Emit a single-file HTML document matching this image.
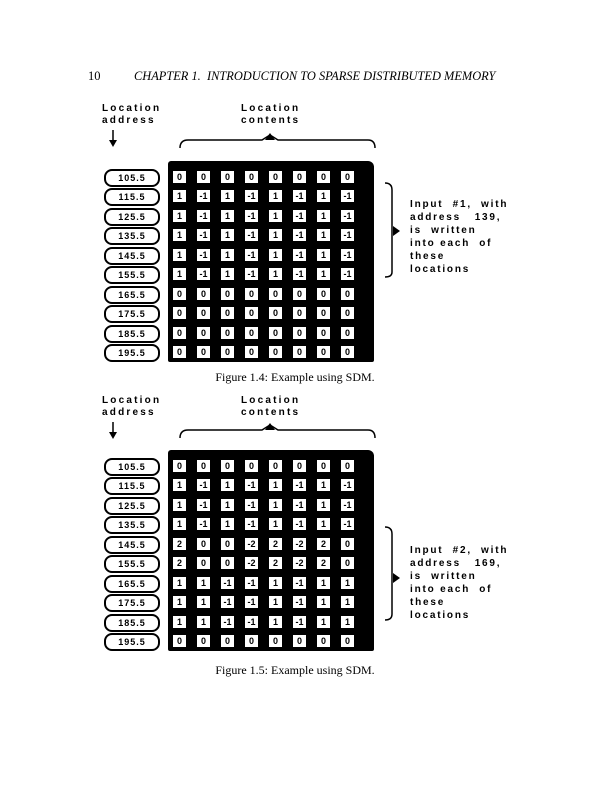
<!DOCTYPE html>
<html><head><meta charset="utf-8"><style>
body{margin:0;background:#fff;width:612px;height:791px;position:relative;overflow:hidden;font-family:"Liberation Serif",serif;}
.a{position:absolute}
.lab{position:absolute;font-family:"Liberation Sans",sans-serif;font-weight:bold;font-size:10px;letter-spacing:2.2px;line-height:12px;color:#000}
.blk{position:absolute;left:168px;width:206px;background:#000;border-radius:3px 6px 2px 2px}
.row{position:absolute;left:172px;display:flex;gap:9px}
.row span{display:block;width:13px;height:12px;background:#fff;border:1px solid #000;font-family:"Liberation Sans",sans-serif;font-weight:bold;font-size:9px;line-height:12px;text-align:center;letter-spacing:0}
.pill{position:absolute;left:104px;width:52px;height:14px;border:2px solid #000;border-radius:8px;font-family:"Liberation Sans",sans-serif;font-weight:bold;font-size:9px;line-height:14px;text-align:center;letter-spacing:1px}
.txt{position:absolute;left:410px;font-family:"Liberation Sans",sans-serif;font-weight:bold;font-size:10px;letter-spacing:1.8px;line-height:13px;white-space:pre}
.cap{position:absolute;left:0;width:590px;text-align:center;font-size:12px}
</style></head><body>
<div class="a" style="left:88px;top:69px;font-size:12.5px">10</div>
<div class="a" style="left:134px;top:69px;font-size:12.4px;font-style:italic">CHAPTER 1.&nbsp; INTRODUCTION TO SPARSE DISTRIBUTED MEMORY</div>

<!-- Figure 1 -->
<div class="lab" style="left:102px;top:103px">Location<br>address</div>
<div class="lab" style="left:241px;top:103px">Location<br>contents</div>
<svg class="a" style="left:0;top:0" width="612" height="791">
<g stroke="#000" stroke-width="1.5" fill="none">
<path d="M113 130 V145"/><path d="M180 148 Q180 140 188 140 H262 L270 135 L278 140 H368 Q375 140 375 148"/>
<path d="M385 183 Q392 183 392 190 V272 Q392 277 385 277"/>
<path d="M113 422 V437"/><path d="M180 438 Q180 430 188 430 H262 L270 425 L278 430 H368 Q375 430 375 438"/>
<path d="M385 527 Q392 527 392 534 V614 Q392 620 385 620"/>
</g>
<path d="M109 140 L117 140 L113 147 Z"/><path d="M265 140 L270 133 L275 140 Z"/>
<path d="M393 226 L400 231 L393 236 Z"/>
<path d="M109 432 L117 432 L113 439 Z"/><path d="M265 430 L270 423 L275 430 Z"/>
<path d="M393 573 L400 578 L393 583 Z"/>
</svg>
<div class="blk" style="top:161px;height:201px"></div>
<div class="pill" style="top:169px">105.5</div><div class="row" style="top:170px"><span>0</span><span>0</span><span>0</span><span>0</span><span>0</span><span>0</span><span>0</span><span>0</span></div>
<div class="pill" style="top:188px">115.5</div><div class="row" style="top:189px"><span>1</span><span>-1</span><span>1</span><span>-1</span><span>1</span><span>-1</span><span>1</span><span>-1</span></div>
<div class="pill" style="top:208px">125.5</div><div class="row" style="top:209px"><span>1</span><span>-1</span><span>1</span><span>-1</span><span>1</span><span>-1</span><span>1</span><span>-1</span></div>
<div class="pill" style="top:227px">135.5</div><div class="row" style="top:228px"><span>1</span><span>-1</span><span>1</span><span>-1</span><span>1</span><span>-1</span><span>1</span><span>-1</span></div>
<div class="pill" style="top:247px">145.5</div><div class="row" style="top:248px"><span>1</span><span>-1</span><span>1</span><span>-1</span><span>1</span><span>-1</span><span>1</span><span>-1</span></div>
<div class="pill" style="top:266px">155.5</div><div class="row" style="top:267px"><span>1</span><span>-1</span><span>1</span><span>-1</span><span>1</span><span>-1</span><span>1</span><span>-1</span></div>
<div class="pill" style="top:286px">165.5</div><div class="row" style="top:287px"><span>0</span><span>0</span><span>0</span><span>0</span><span>0</span><span>0</span><span>0</span><span>0</span></div>
<div class="pill" style="top:305px">175.5</div><div class="row" style="top:306px"><span>0</span><span>0</span><span>0</span><span>0</span><span>0</span><span>0</span><span>0</span><span>0</span></div>
<div class="pill" style="top:325px">185.5</div><div class="row" style="top:326px"><span>0</span><span>0</span><span>0</span><span>0</span><span>0</span><span>0</span><span>0</span><span>0</span></div>
<div class="pill" style="top:344px">195.5</div><div class="row" style="top:345px"><span>0</span><span>0</span><span>0</span><span>0</span><span>0</span><span>0</span><span>0</span><span>0</span></div>
<div class="txt" style="top:198px">Input  #1,  with
address   139,
is  written
into each  of
these
locations</div>
<div class="cap" style="top:370px">Figure 1.4: Example using SDM.</div>

<!-- Figure 2 -->
<div class="lab" style="left:102px;top:395px">Location<br>address</div>
<div class="lab" style="left:241px;top:395px">Location<br>contents</div>
<div class="blk" style="top:450px;height:201px"></div>
<div class="pill" style="top:458px">105.5</div><div class="row" style="top:459px"><span>0</span><span>0</span><span>0</span><span>0</span><span>0</span><span>0</span><span>0</span><span>0</span></div>
<div class="pill" style="top:477px">115.5</div><div class="row" style="top:478px"><span>1</span><span>-1</span><span>1</span><span>-1</span><span>1</span><span>-1</span><span>1</span><span>-1</span></div>
<div class="pill" style="top:497px">125.5</div><div class="row" style="top:498px"><span>1</span><span>-1</span><span>1</span><span>-1</span><span>1</span><span>-1</span><span>1</span><span>-1</span></div>
<div class="pill" style="top:516px">135.5</div><div class="row" style="top:517px"><span>1</span><span>-1</span><span>1</span><span>-1</span><span>1</span><span>-1</span><span>1</span><span>-1</span></div>
<div class="pill" style="top:536px">145.5</div><div class="row" style="top:537px"><span>2</span><span>0</span><span>0</span><span>-2</span><span>2</span><span>-2</span><span>2</span><span>0</span></div>
<div class="pill" style="top:555px">155.5</div><div class="row" style="top:556px"><span>2</span><span>0</span><span>0</span><span>-2</span><span>2</span><span>-2</span><span>2</span><span>0</span></div>
<div class="pill" style="top:575px">165.5</div><div class="row" style="top:576px"><span>1</span><span>1</span><span>-1</span><span>-1</span><span>1</span><span>-1</span><span>1</span><span>1</span></div>
<div class="pill" style="top:594px">175.5</div><div class="row" style="top:595px"><span>1</span><span>1</span><span>-1</span><span>-1</span><span>1</span><span>-1</span><span>1</span><span>1</span></div>
<div class="pill" style="top:614px">185.5</div><div class="row" style="top:615px"><span>1</span><span>1</span><span>-1</span><span>-1</span><span>1</span><span>-1</span><span>1</span><span>1</span></div>
<div class="pill" style="top:633px">195.5</div><div class="row" style="top:634px"><span>0</span><span>0</span><span>0</span><span>0</span><span>0</span><span>0</span><span>0</span><span>0</span></div>
<div class="txt" style="top:544px">Input  #2,  with
address   169,
is  written
into each  of
these
locations</div>
<div class="cap" style="top:663px">Figure 1.5: Example using SDM.</div>
</body></html>
